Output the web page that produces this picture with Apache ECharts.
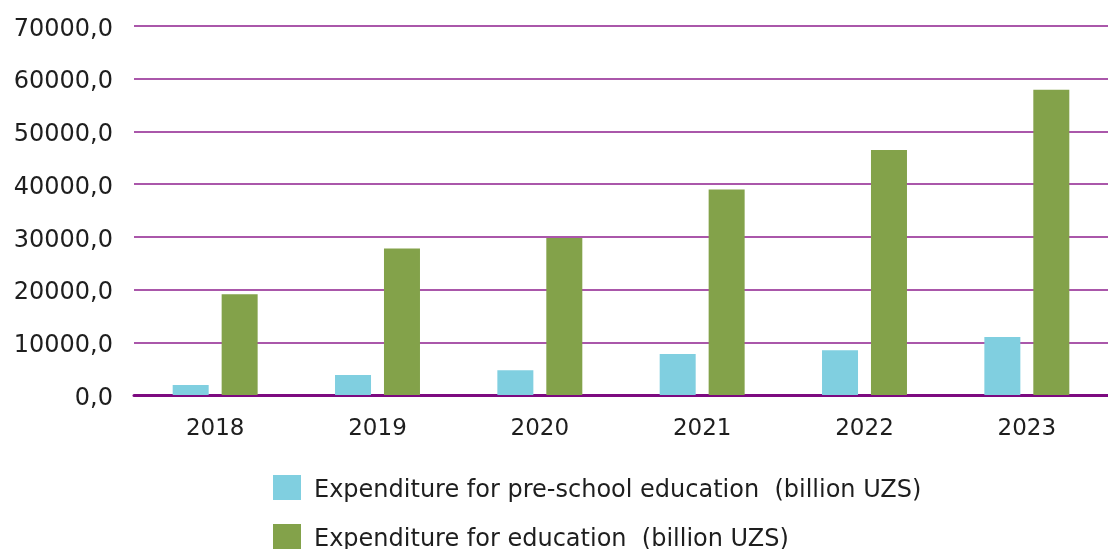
<!DOCTYPE html>
<html>
<head>
<meta charset="utf-8">
<script src="https://cdn.jsdelivr.net/npm/echarts@6/dist/echarts.min.js"></script>
<style>
  html, body { margin: 0; padding: 0; background: #ffffff; }
  #chart { width: 1108px; height: 549px; }
</style>
</head>
<body>
<div id="chart"></div>
<script>
// Education spending in Uzbekistan, billion UZS
const years = ['2018', '2019', '2020', '2021', '2022', '2023'];
const preSchool = [1900, 3800, 4700, 7800, 8500, 11000];
const education = [19100, 27800, 29800, 39000, 46500, 57900];
const seriesNames = [
  'Expenditure for pre-school education  (billion UZS)',
  'Expenditure for education  (billion UZS)'
];

const FONT = 'DejaVu Sans';
const TEXT = '#1e1e1e';
const chart = echarts.init(document.getElementById('chart'), null, { renderer: 'canvas' });

// one legend per row so the two entries stack under the plot
const legendRow = (name, top) => ({
  orient: 'vertical',
  left: 273,
  top: top,
  padding: 0,
  itemWidth: 28,
  itemHeight: 25,
  icon: 'rect',
  formatter: n => '{t|' + n + '}',
  textStyle: {
    rich: { t: { fontFamily: FONT, fontSize: 24, color: TEXT, padding: [7, 0, 0, 8] } }
  },
  data: [name]
});

chart.setOption({
  animation: false,
  backgroundColor: '#ffffff',
  grid: { left: 134, right: 0, top: 26, bottom: 154, containLabel: false },
  legend: [legendRow(seriesNames[0], 475), legendRow(seriesNames[1], 524)],
  xAxis: {
    type: 'category',
    data: years,
    axisLine: { show: true, lineStyle: { color: '#7d0a80', width: 3 } },
    axisTick: { show: false },
    axisLabel: { fontFamily: FONT, fontSize: 23, color: TEXT, margin: 23 }
  },
  yAxis: {
    type: 'value',
    min: 0,
    max: 70000,
    interval: 10000,
    axisLine: { show: false },
    axisTick: { show: false },
    splitLine: { show: true, lineStyle: { color: '#8e1f8e', width: 1.5 } },
    axisLabel: {
      margin: 21,
      formatter: v => '{v|' + v.toFixed(1).replace('.', ',') + '}',
      rich: {
        v: { fontFamily: FONT, fontSize: 24, color: TEXT, padding: [7, 0, 0, 0] }
      }
    }
  },
  series: [
    {
      name: seriesNames[0],
      type: 'bar',
      data: preSchool,
      barWidth: 36,
      barGap: '36%',
      itemStyle: { color: '#80cfe0' }
    },
    {
      name: seriesNames[1],
      type: 'bar',
      data: education,
      barWidth: 36,
      itemStyle: { color: '#83a24a' }
    }
  ]
});
</script>
</body>
</html>
